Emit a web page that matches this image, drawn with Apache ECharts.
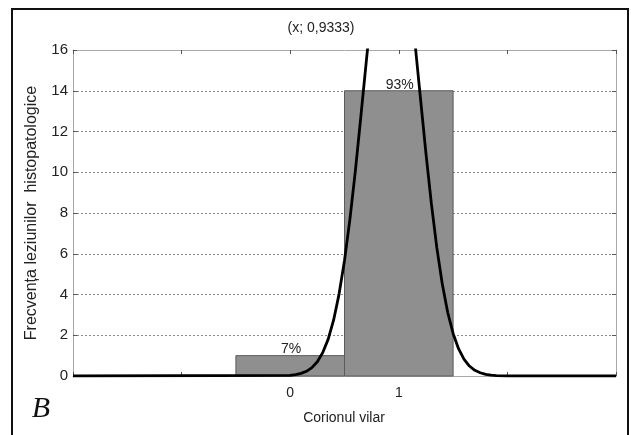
<!DOCTYPE html>
<html>
<head>
<meta charset="utf-8">
<script src="https://cdn.jsdelivr.net/npm/echarts@6/dist/echarts.min.js"></script>
<style>
  html, body { margin: 0; padding: 0; background: #fff; }
  #chart { width: 631px; height: 435px; }
</style>
</head>
<body>
<div id="chart"></div>
<script>
// Histogram of lesion frequency (corionul vilar) with fitted normal curve
const binCenters = [0, 1];
const binLeft = [-0.5, 0.5];
const binRight = [0.5, 1.5];
const binCounts = [1, 14];

// fitted normal density, scaled to counts
const fitX = [-2, 0, 0.05, 0.1, 0.15, 0.2, 0.25, 0.3, 0.35, 0.4, 0.45, 0.5, 0.55, 0.6, 0.65, 0.7, 0.75, 0.8, 0.85, 0.9, 0.95,
              1.0, 1.05, 1.1, 1.15, 1.2, 1.25, 1.3, 1.35, 1.4, 1.45, 1.5, 1.55, 1.6, 1.65, 1.7, 1.75, 1.8, 1.85, 1.9, 2.0, 3];
const fitY = [0, 0.03, 0.07, 0.13, 0.23, 0.41, 0.70, 1.15, 1.81, 2.75, 4.02, 5.67, 7.70, 10.07, 12.70, 15.41, 18.02, 20.29, 22.00, 22.99, 23.13,
              22.42, 20.93, 18.82, 16.30, 13.60, 10.93, 8.46, 6.30, 4.53, 3.13, 2.09, 1.34, 0.83, 0.49, 0.28, 0.16, 0.08, 0.04, 0.02, 0, 0];

const xTickLabels = ['0', '1'];
const yTicks = [0, 2, 4, 6, 8, 10, 12, 14, 16];

const titleText = '(x; 0,9333)';
const xName = 'Corionul vilar';
const yName = 'Frecvența leziunilor  histopatologice';
const panelTag = 'B';

const total = binCounts.reduce((a, b) => a + b, 0);
const barData = binCounts.map((c, i) => [binLeft[i], binRight[i], c, binCenters[i]]);
const fitData = fitX.map((x, i) => [x, fitY[i]]);

const chart = echarts.init(document.getElementById('chart'), null, { renderer: 'canvas' });

const gridL = 73, gridT = 50, gridR = 15, gridB = 59;
const axisGray = '#a8a8a8';
const font = 'Liberation Sans, Arial, sans-serif';

const baseX = {
  type: 'value', min: -2, max: 3, interval: 1,
  axisLine: { show: true, onZero: false, lineStyle: { color: axisGray, width: 1 } },
  axisTick: { show: true, inside: true, length: 4, lineStyle: { color: '#555' } },
  splitLine: { show: false }
};
const baseY = {
  type: 'value', min: 0, max: 16, interval: 2,
  axisLine: { show: true, onZero: false, lineStyle: { color: axisGray, width: 1 } },
  axisTick: { show: true, inside: true, length: 4, lineStyle: { color: '#555' } }
};

chart.setOption({
  animation: false,
  backgroundColor: '#fff',
  grid: { left: gridL, top: gridT, right: gridR, bottom: gridB, show: false },
  xAxis: [
    Object.assign({}, baseX, {
      position: 'bottom',
      axisLabel: {
        show: true, margin: 10, color: '#222', fontSize: 14, fontFamily: font,
        formatter: v => {
          const k = binCenters.indexOf(v);
          return k >= 0 ? xTickLabels[k] : '';
        }
      }
    }),
    Object.assign({}, baseX, { position: 'top', axisLabel: { show: false } })
  ],
  yAxis: [
    Object.assign({}, baseY, {
      position: 'left',
      axisLabel: { color: '#222', fontSize: 15, fontFamily: font, margin: 5,
        formatter: v => yTicks.includes(v) ? String(v) : '' },
      splitLine: { show: true, lineStyle: { color: '#8a8a8a', type: [2, 2], width: 1 } }
    }),
    Object.assign({}, baseY, {
      position: 'right',
      axisLabel: { show: false },
      splitLine: { show: false }
    })
  ],
  series: [
    {
      type: 'custom',
      xAxisIndex: 0, yAxisIndex: 0,
      data: barData,
      encode: { x: [0, 1], y: 2 },
      renderItem: (params, api) => {
        const p0 = api.coord([api.value(0), 0]);
        const p1 = api.coord([api.value(1), api.value(2)]);
        const mid = api.coord([api.value(3), api.value(2)]);
        const pct = Math.round(api.value(2) / total * 100) + '%';
        return {
          type: 'group',
          children: [
            {
              type: 'rect',
              shape: { x: p0[0], y: p1[1], width: p1[0] - p0[0], height: p0[1] - p1[1] },
              style: { fill: '#8f8f8f', stroke: '#5a5a5a', lineWidth: 1 }
            },
            {
              type: 'text',
              style: {
                x: mid[0] + 1, y: mid[1] + 1, text: pct, align: 'center', verticalAlign: 'bottom',
                fill: '#222', font: '14px ' + font
              }
            }
          ]
        };
      },
      z: 2
    },
    {
      type: 'line',
      xAxisIndex: 0, yAxisIndex: 0,
      data: fitData,
      showSymbol: false,
      smooth: false,
      clip: true,
      lineStyle: { color: '#000', width: 2.8 },
      z: 5
    }
  ],
  graphic: [
    {
      type: 'rect', silent: true, z: 100,
      shape: { x: 12, y: 9, width: 616, height: 440 },
      style: { fill: 'none', stroke: '#111', lineWidth: 2 }
    },
    {
      type: 'text', z: 100, x: 321, y: 28,
      style: { text: titleText, align: 'center', verticalAlign: 'middle', fill: '#222', font: '14px ' + font }
    },
    {
      type: 'text', z: 100, x: 344, y: 418,
      style: { text: xName, align: 'center', verticalAlign: 'middle', fill: '#222', font: '14px ' + font }
    },
    {
      type: 'text', z: 100, x: 32, y: 213, rotation: Math.PI / 2,
      style: { text: yName, align: 'center', verticalAlign: 'middle', fill: '#222', font: '16px ' + font }
    },
    {
      type: 'text', z: 100, x: 41, y: 409,
      style: { text: panelTag, align: 'center', verticalAlign: 'middle', fill: '#111',
        font: 'italic 30px Liberation Serif, Times New Roman, serif' }
    }
  ]
});
</script>
</body>
</html>
